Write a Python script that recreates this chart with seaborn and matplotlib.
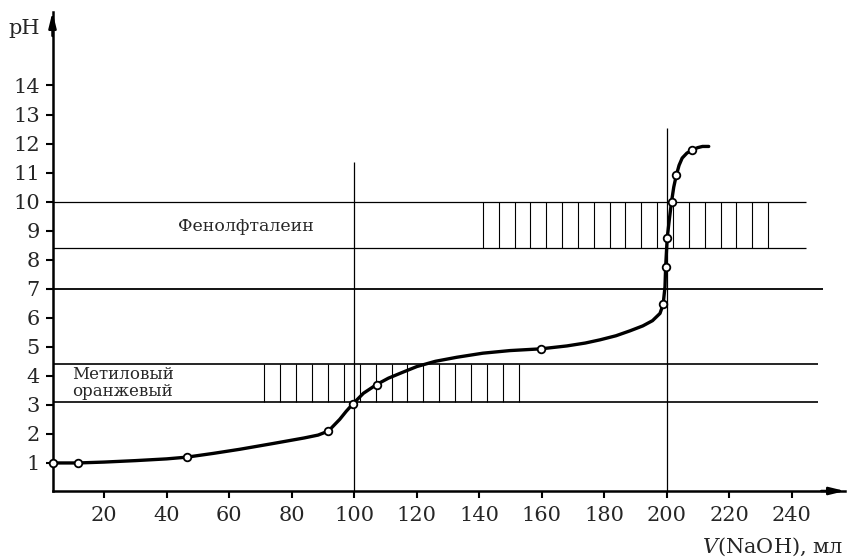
import numpy as np
import matplotlib
matplotlib.use("Agg")
import matplotlib.pyplot as plt
import seaborn as sns

# titration curve
curve_v = [3.7, 11.7, 20, 30, 40, 46.5, 55, 63.4, 74.1, 84, 88.5, 91.8, 95.4, 97.5, 99.5,
           103, 107.2, 111, 115.5, 120.1, 126, 132.9, 141.2, 149.9, 159.8, 168.1, 174,
           178.7, 183.8, 188.3, 192.4, 195.5, 197.9, 198.9, 199.5, 199.7, 200.2, 200.9,
           201.6, 202.3, 203.1, 204.0, 205.0, 206.5, 208.2, 210, 211.5, 213.5]
curve_ph = [1.0, 1.0, 1.03, 1.08, 1.14, 1.2, 1.33, 1.47, 1.67, 1.86, 1.96, 2.1, 2.5, 2.78, 3.02,
            3.4, 3.7, 3.92, 4.12, 4.32, 4.5, 4.64, 4.78, 4.87, 4.93, 5.03, 5.13,
            5.24, 5.38, 5.55, 5.72, 5.9, 6.15, 6.46, 7.07, 7.75, 8.74, 9.4,
            10.0, 10.5, 10.9, 11.25, 11.5, 11.67, 11.78, 11.86, 11.9, 11.9]

# measured points (open circles)
point_v = [3.7, 11.7, 46.5, 91.8, 99.5, 107.2, 159.8, 198.9, 199.7, 200.2, 201.6, 203.1, 208.2]
point_ph = [1.0, 1.0, 1.2, 2.1, 3.02, 3.7, 4.93, 6.46, 7.75, 8.74, 10.0, 10.9, 11.78]

# indicator ranges
phenol_ph = [8.4, 10.0]
phenol_hatch = [141.2, 232.5]
methyl_ph = [3.1, 4.4]
methyl_hatch = [71.3, 152.7]

# equivalence points
equiv_v = [100, 200]
equiv_top = [11.37, 12.53]

x_ticks = list(range(20, 241, 20))
y_ticks = list(range(1, 15))

sns.set_style("white")
plt.rcParams["font.family"] = ["DejaVu Serif"]
plt.rcParams["mathtext.fontset"] = "dejavuserif"

fig = plt.figure(figsize=(8.51, 5.6), dpi=100)
ax = fig.add_axes([52.5 / 851, 69 / 560, 792.5 / 851, 479 / 560])
x0 = 3.5
ax.set_xlim(x0, x0 + 792.5 / 3.125)
ax.set_ylim(0.034, 16.53)

# indicator bands
for y in phenol_ph:
    ax.hlines(y, x0, 244.5, color="black", lw=0.9)
ax.vlines(np.linspace(phenol_hatch[0], phenol_hatch[1], 19), phenol_ph[0], phenol_ph[1],
          color="black", lw=0.8)
for y in methyl_ph:
    ax.hlines(y, x0, 248.5, color="black", lw=1.2)
ax.vlines(np.linspace(methyl_hatch[0], methyl_hatch[1], 17), methyl_ph[0], methyl_ph[1],
          color="black", lw=0.8)
ax.hlines(7, x0, 250.2, color="black", lw=1.3)

# equivalence verticals
for v, top in zip(equiv_v, equiv_top):
    ax.vlines(v, 0, top, color="black", lw=0.9)

# curve and points
sns.lineplot(x=curve_v, y=curve_ph, sort=False, estimator=None, color="black",
             lw=2.4, ax=ax, solid_joinstyle="round", solid_capstyle="round")
sns.scatterplot(x=point_v, y=point_ph, marker="o", s=30, facecolor="white",
                edgecolor="black", linewidth=1.3, ax=ax, zorder=5, clip_on=False)

ax.text(43.7, 8.99, "Фенолфталеин", fontsize=12.5, ha="left", va="baseline")
ax.text(9.8, 3.9, "Метиловый", fontsize=12, ha="left", va="baseline")
ax.text(9.8, 3.32, "оранжевый", fontsize=12, ha="left", va="baseline")

# axes styling
for s in ["top", "right"]:
    ax.spines[s].set_visible(False)
for s in ["left", "bottom"]:
    ax.spines[s].set_linewidth(1.8)
    ax.spines[s].set_color("black")
ax.set_xticks(x_ticks)
ax.set_yticks(y_ticks)
ax.tick_params(axis="both", direction="out", length=5, width=1.5, color="black",
               labelsize=15, left=True, bottom=True)
ax.tick_params(axis="y", pad=4)
ax.tick_params(axis="x", pad=6)

# arrow heads
ax.annotate("", xy=(0, 1.0), xytext=(0, 0.95), xycoords="axes fraction",
            arrowprops=dict(arrowstyle="-|>,head_length=0.9,head_width=0.22",
                            lw=1.8, color="black", shrinkA=0, shrinkB=0))
ax.annotate("", xy=(1.0, 0), xytext=(0.97, 0), xycoords="axes fraction",
            arrowprops=dict(arrowstyle="-|>,head_length=0.9,head_width=0.22",
                            lw=1.8, color="black", shrinkA=0, shrinkB=0))

fig.text(8 / 851, 1 - 34 / 560, "pH", fontsize=15, ha="left", va="baseline")
fig.text(843 / 851, 1 - 553 / 560, "$V$(NaOH), мл", fontsize=15, ha="right", va="baseline")

fig.savefig("out.png", dpi=100)
